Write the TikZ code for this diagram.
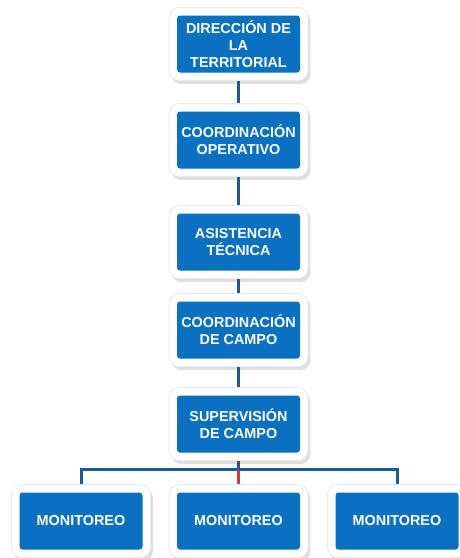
\documentclass[tikz,border=0pt]{standalone}
\usepackage{fontspec}
\newfontfamily\arialfont{Liberation Sans}
\usetikzlibrary{shadows}
\usetikzlibrary{positioning}
\usetikzlibrary{calc}
\definecolor{boxblue}{RGB}{10,112,192}
\definecolor{linkblue}{RGB}{30,88,150}
\definecolor{linkred}{RGB}{200,60,60}
\tikzstyle{orgcard}=[rectangle,rounded corners=5pt,fill=white,draw=black!8,
  drop shadow={opacity=0.25,shadow xshift=1.2pt,shadow yshift=-1.8pt},
  minimum width=69.5pt,minimum height=36.5pt,inner sep=0pt,align=center,
  text=white,font=\arialfont\bfseries\fontsize{7.2}{8.5}\selectfont,
  path picture={\fill[boxblue,rounded corners=1.5pt]
    ([shift={(4pt,4pt)}]path picture bounding box.south west) rectangle
    ([shift={(-4pt,-4pt)}]path picture bounding box.north east);}]
\tikzstyle{orglink} = [draw,linkblue,line width=1.5pt]

\begin{document}
\begin{tikzpicture}[x=0.5pt,y=-0.5pt]
    \useasboundingbox (0,0) rectangle (460,558);
    % the chain of offices
    \foreach \pos/\name/\label in {{(238.5,44)/dir/DIRECCIÓN DE\\LA\\TERRITORIAL},
        {(238.5,140)/coop/COORDINACIÓN\\OPERATIVO},
        {(238.5,242)/asis/ASISTENCIA\\TÉCNICA},
        {(238.5,330)/coca/COORDINACIÓN\\DE CAMPO},
        {(238.5,424)/sup/SUPERVISIÓN\\DE CAMPO}}
        \node[orgcard] (\name) at \pos {\label};

    % bottom row
    \foreach \pos/\name in {{(81,521)/mona}, {(238.5,521)/monb}, {(397,521)/monc}}
        \node[orgcard] (\name) at \pos {MONITOREO};

    % Connect the offices
    \foreach \source/ \dest in {dir/coop, coop/asis, asis/coca, coca/sup}
        \path[orglink] (\source) -- (\dest);

    \path[orglink] (sup.south) -- ++(0,9) coordinate (bus);
    \path[orglink] (bus) -| (mona.north);
    \path[orglink] (bus) -| (monc.north);
    \path[orglink, linkred, line width=1.2pt] (bus) -- (monb.north);
\end{tikzpicture}
\end{document}
